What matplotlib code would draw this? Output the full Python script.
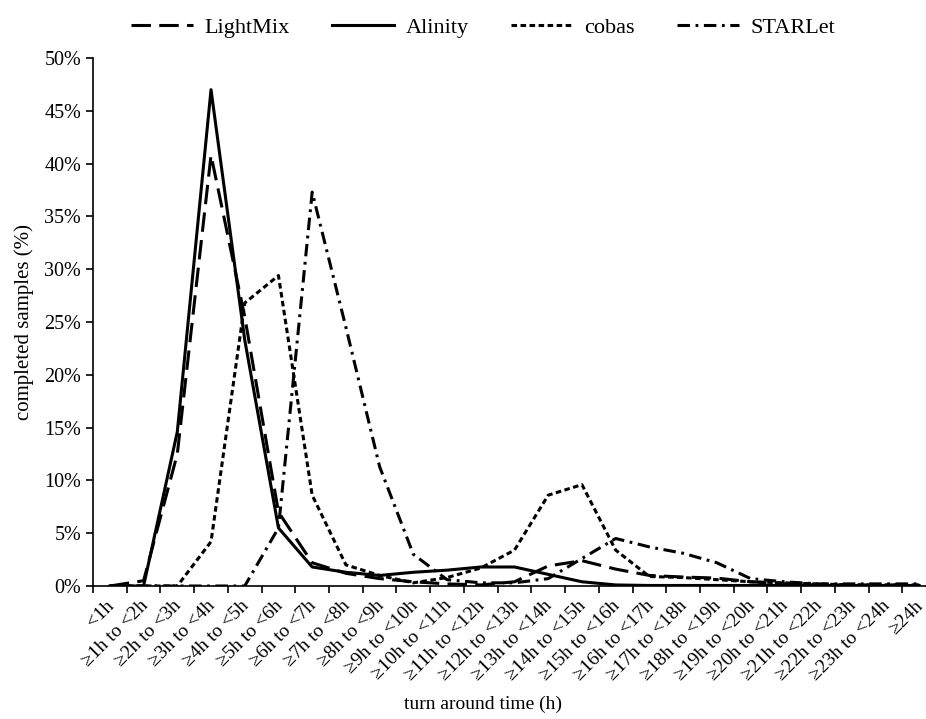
import matplotlib
matplotlib.use("Agg")
import matplotlib.pyplot as plt
from matplotlib.ticker import FixedLocator, FuncFormatter

plt.rcParams['font.family'] = ['Liberation Serif', 'DejaVu Serif']
plt.rcParams['lines.scale_dashes'] = False

# categories (turn around time bins)
categories = ["<1h"] + ["\u2265%dh to <%dh" % (h, h + 1) for h in range(1, 24)] + ["\u226524h"]

# completed samples (%) per bin
lightmix = [0, 0.5, 12.5, 40.8, 25.5, 7.0, 2.2, 1.2, 0.7, 0.4, 0.2, 0.1, 0.4, 1.9, 2.4,
            1.6, 1.0, 0.85, 0.75, 0.4, 0.2, 0.1, 0.1, 0.1, 0.1]
alinity = [0, 0, 14.6, 47.0, 23.3, 5.5, 1.8, 1.3, 1.0, 1.3, 1.5, 1.8, 1.8, 1.1, 0.4,
           0.1, 0.05, 0.05, 0.05, 0.05, 0.05, 0.05, 0.05, 0.05, 0.05]
cobas = [0, 0, 0, 4.2, 26.8, 29.4, 8.6, 2.0, 1.0, 0.3, 0.8, 1.7, 3.4, 8.6, 9.6,
         3.4, 0.9, 0.8, 0.6, 0.4, 0.3, 0.2, 0.1, 0.1, 0.1]
starlet = [0, 0, 0, 0, 0, 5.5, 37.3, 24.5, 11.3, 3.0, 0.6, 0.3, 0.3, 0.7, 2.6,
           4.5, 3.7, 3.1, 2.2, 0.7, 0.4, 0.2, 0.2, 0.2, 0.2]

series = [("LightMix", lightmix, (0, (14, 6))),
          ("Alinity", alinity, "-"),
          ("cobas", cobas, (0, (4, 2.5))),
          ("STARLet", starlet, (0, (9, 4, 2, 4)))]

fig = plt.figure(figsize=(9.26, 7.19), dpi=100)
ax = fig.add_axes([93 / 926, 133 / 719, 843 / 926, 528 / 719])

x = list(range(len(categories)))
for name, vals, ls in series:
    ax.plot(x, vals, color="black", linestyle=ls, linewidth=2.2, label=name)

ax.set_xlim(-0.5, len(categories) - 0.5)
ax.set_ylim(0, 50)
ax.yaxis.set_major_locator(FixedLocator(range(0, 55, 5)))
ax.yaxis.set_major_formatter(FuncFormatter(lambda v, p: "%d%%" % v))

# tick marks between categories, labels (slightly nudged left) under each category
ax.xaxis.set_major_locator(FixedLocator([i - 0.5 for i in range(len(categories) + 1)]))
ax.xaxis.set_major_formatter(FuncFormatter(lambda v, p: ""))
ax.xaxis.set_minor_locator(FixedLocator([i - 0.13 for i in x]))
ax.set_xticklabels(categories, minor=True, rotation=45, ha="right", rotation_mode="anchor",
                   fontsize=14)
ax.tick_params(axis="x", which="minor", length=0, pad=8)
ax.tick_params(axis="x", which="major", length=5, width=1.2, direction="out")
ax.tick_params(axis="y", length=5, width=1.2, direction="out", labelsize=14.5)

for s in ["top", "right"]:
    ax.spines[s].set_visible(False)
ax.spines["left"].set_linewidth(1.2)
ax.spines["bottom"].set_linewidth(1.2)

ax.set_ylabel("completed samples (%)", fontsize=15)
ax.yaxis.set_label_coords(-0.07, 0.5)
ax.set_xlabel("turn around time (h)", fontsize=14)
ax.xaxis.set_label_coords(390 / 843, -0.208)

fig.legend(loc="center", bbox_to_anchor=(483 / 926, 1 - 28 / 719), ncol=4, frameon=False,
           fontsize=16, handlelength=2.8, handletextpad=0.5, columnspacing=1.9)

fig.savefig("out.png", dpi=100)
